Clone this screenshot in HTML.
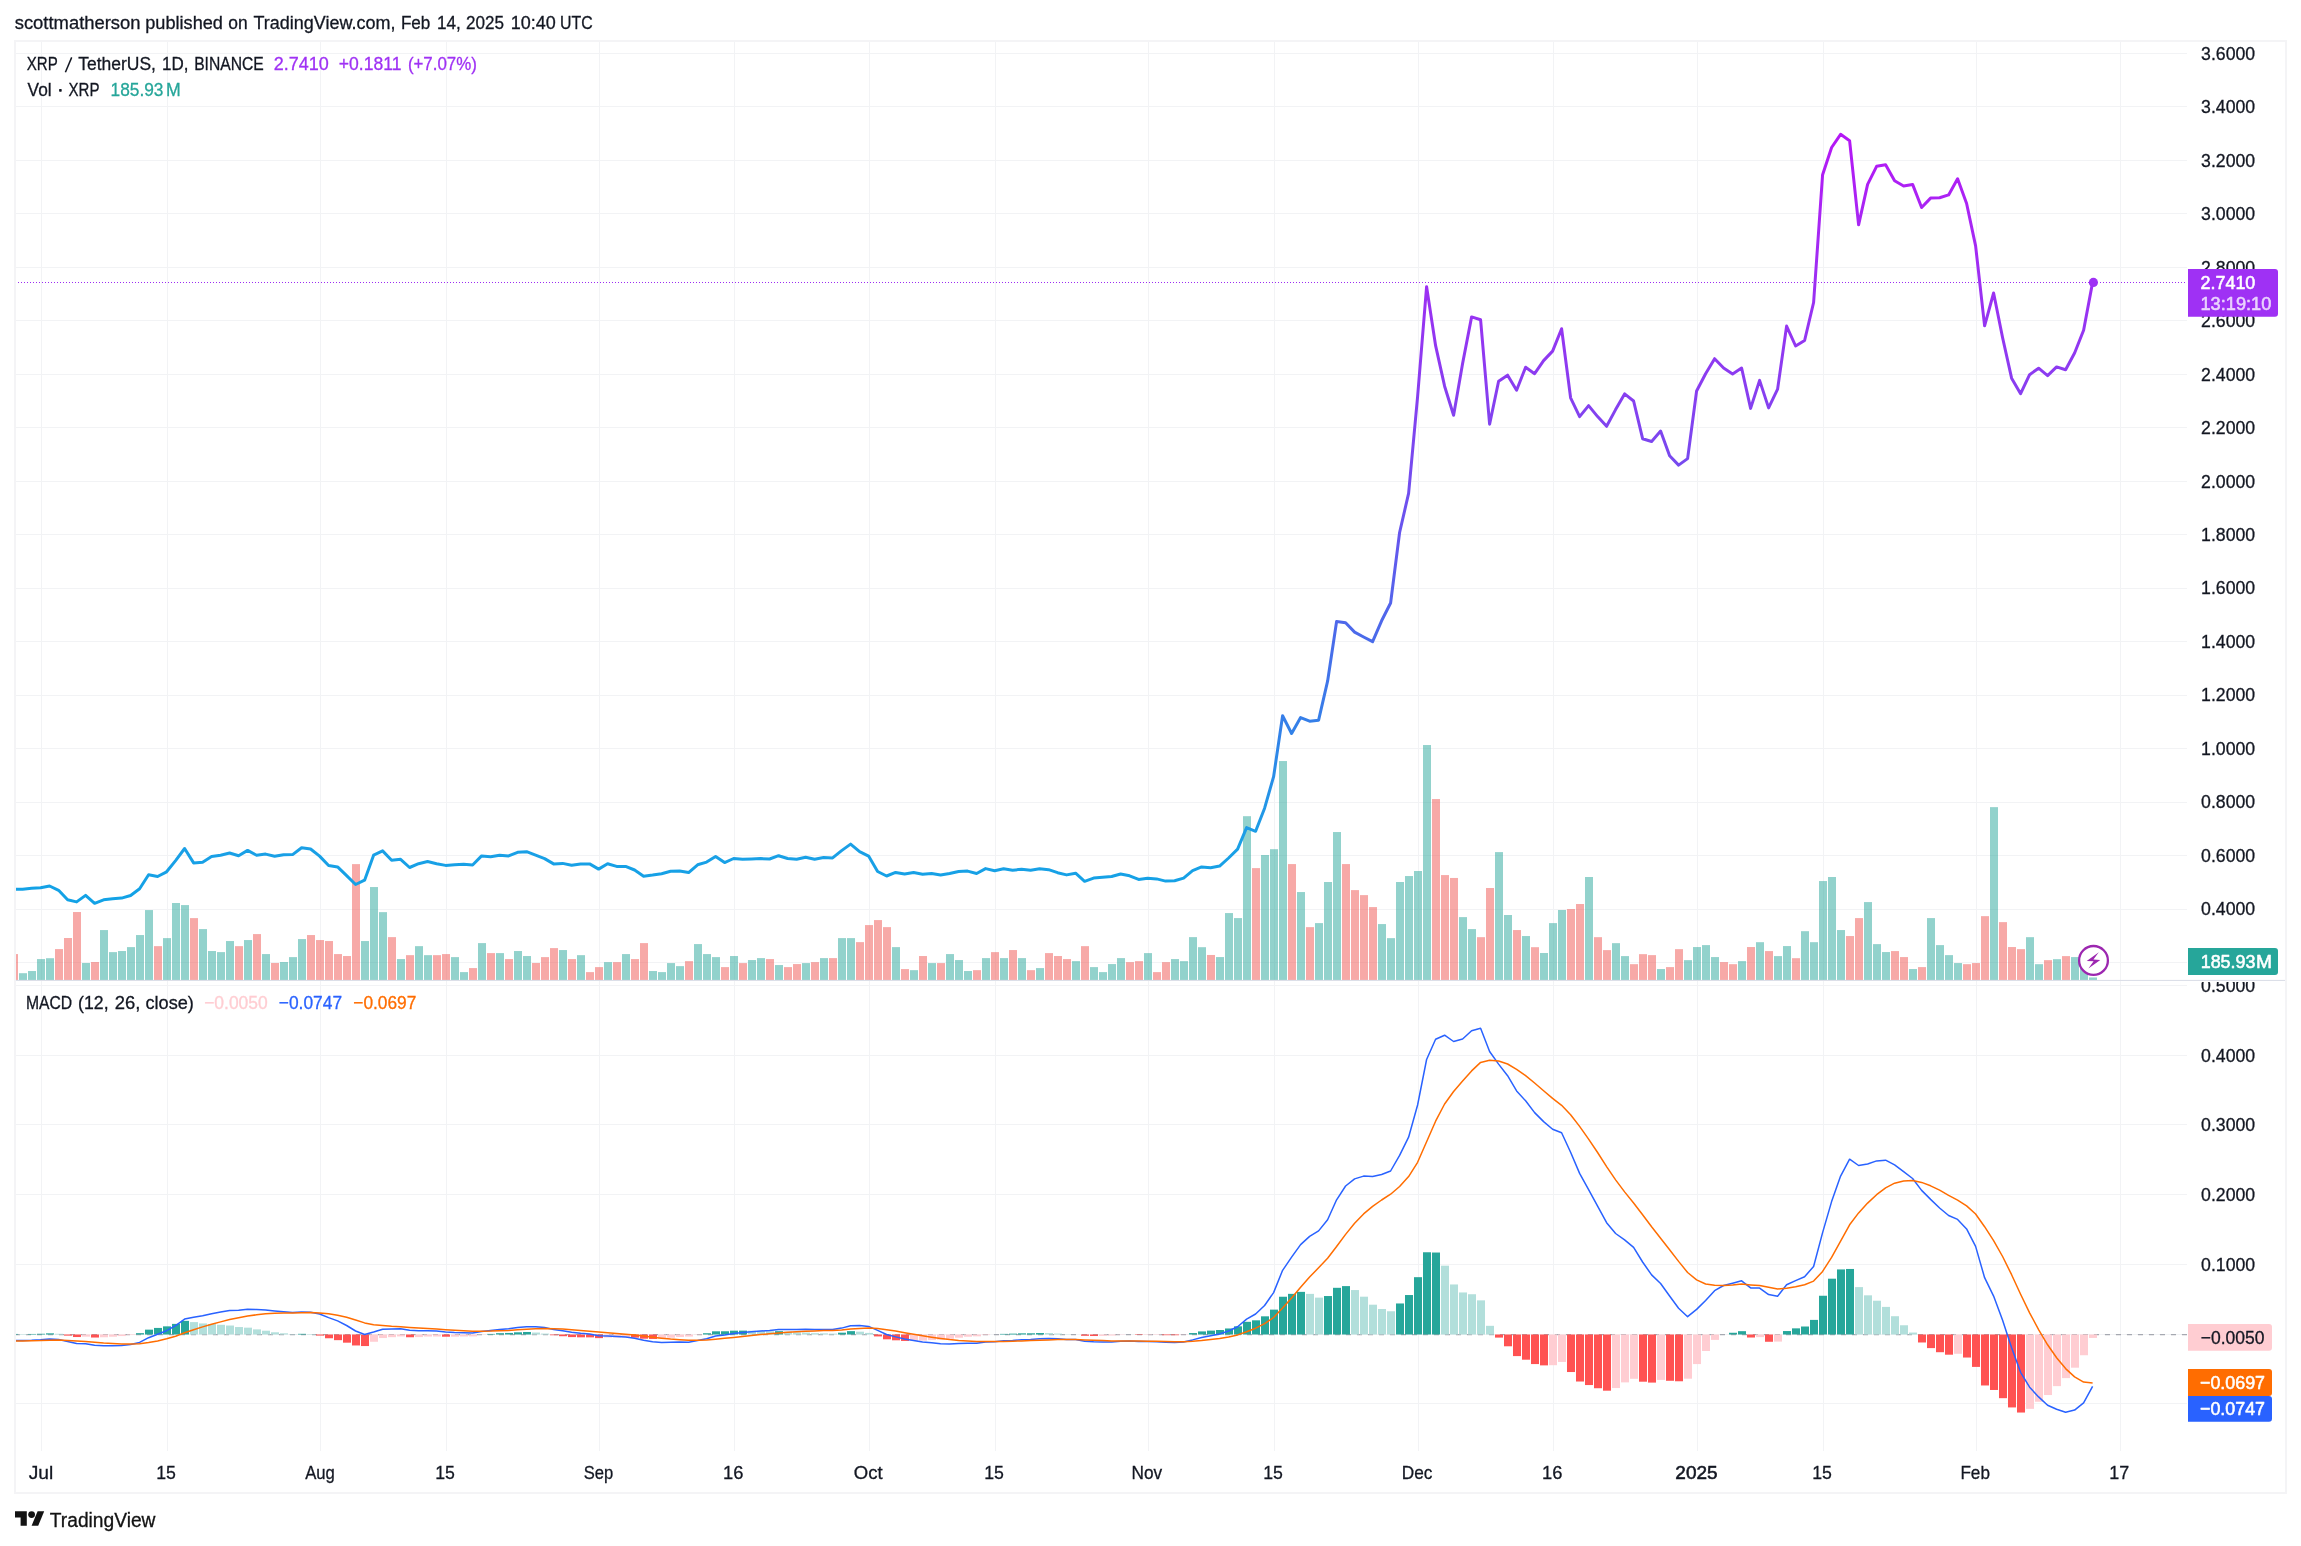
<!DOCTYPE html>
<html><head><meta charset="utf-8"><title>XRP / TetherUS chart</title>
<style>html,body{margin:0;padding:0;background:#fff;}body{width:2301px;height:1546px;overflow:hidden;font-family:"Liberation Sans",sans-serif;}</style>
</head><body>
<svg width="2301" height="1546" viewBox="0 0 2301 1546" style="display:block;will-change:transform;opacity:0.9999">
<defs>
<linearGradient id="pg" gradientUnits="userSpaceOnUse" x1="0" y1="130" x2="0" y2="900"><stop offset="0" stop-color="#b517f5"/><stop offset="0.13" stop-color="#a727f4"/><stop offset="0.33" stop-color="#8a3df0"/><stop offset="0.50" stop-color="#6b52ee"/><stop offset="0.66" stop-color="#4a6bea"/><stop offset="0.80" stop-color="#2f85e8"/><stop offset="0.92" stop-color="#1c9fe6"/><stop offset="1" stop-color="#12a2e6"/></linearGradient>
<clipPath id="cp"><rect x="15" y="42" width="2172" height="1409"/></clipPath>
<clipPath id="cpa"><rect x="2187" y="982" width="100" height="470"/></clipPath>
</defs>
<rect width="2301" height="1546" fill="#fff"/>
<g><rect x="41" y="42" width="1" height="1409" fill="#f2f3f5"/><rect x="167" y="42" width="1" height="1409" fill="#f2f3f5"/><rect x="320" y="42" width="1" height="1409" fill="#f2f3f5"/><rect x="446" y="42" width="1" height="1409" fill="#f2f3f5"/><rect x="599" y="42" width="1" height="1409" fill="#f2f3f5"/><rect x="734" y="42" width="1" height="1409" fill="#f2f3f5"/><rect x="869" y="42" width="1" height="1409" fill="#f2f3f5"/><rect x="995" y="42" width="1" height="1409" fill="#f2f3f5"/><rect x="1148" y="42" width="1" height="1409" fill="#f2f3f5"/><rect x="1274" y="42" width="1" height="1409" fill="#f2f3f5"/><rect x="1418" y="42" width="1" height="1409" fill="#f2f3f5"/><rect x="1553" y="42" width="1" height="1409" fill="#f2f3f5"/><rect x="1697" y="42" width="1" height="1409" fill="#f2f3f5"/><rect x="1823" y="42" width="1" height="1409" fill="#f2f3f5"/><rect x="1976" y="42" width="1" height="1409" fill="#f2f3f5"/><rect x="2120" y="42" width="1" height="1409" fill="#f2f3f5"/><rect x="16" y="53" width="2171" height="1" fill="#f2f3f5"/><rect x="16" y="106" width="2171" height="1" fill="#f2f3f5"/><rect x="16" y="160" width="2171" height="1" fill="#f2f3f5"/><rect x="16" y="213" width="2171" height="1" fill="#f2f3f5"/><rect x="16" y="267" width="2171" height="1" fill="#f2f3f5"/><rect x="16" y="320" width="2171" height="1" fill="#f2f3f5"/><rect x="16" y="374" width="2171" height="1" fill="#f2f3f5"/><rect x="16" y="427" width="2171" height="1" fill="#f2f3f5"/><rect x="16" y="481" width="2171" height="1" fill="#f2f3f5"/><rect x="16" y="534" width="2171" height="1" fill="#f2f3f5"/><rect x="16" y="588" width="2171" height="1" fill="#f2f3f5"/><rect x="16" y="641" width="2171" height="1" fill="#f2f3f5"/><rect x="16" y="695" width="2171" height="1" fill="#f2f3f5"/><rect x="16" y="748" width="2171" height="1" fill="#f2f3f5"/><rect x="16" y="802" width="2171" height="1" fill="#f2f3f5"/><rect x="16" y="855" width="2171" height="1" fill="#f2f3f5"/><rect x="16" y="909" width="2171" height="1" fill="#f2f3f5"/><rect x="16" y="962" width="2171" height="1" fill="#f2f3f5"/><rect x="16" y="1403" width="2171" height="1" fill="#f2f3f5"/><rect x="16" y="1334" width="2171" height="1" fill="#f2f3f5"/><rect x="16" y="1264" width="2171" height="1" fill="#f2f3f5"/><rect x="16" y="1194" width="2171" height="1" fill="#f2f3f5"/><rect x="16" y="1124" width="2171" height="1" fill="#f2f3f5"/><rect x="16" y="1055" width="2171" height="1" fill="#f2f3f5"/><rect x="16" y="985" width="2171" height="1" fill="#f2f3f5"/></g>
<g clip-path="url(#cp)">
<rect x="10.00" y="954.08" width="8" height="25.92" fill="rgba(239,83,80,0.5)"/><rect x="19.00" y="973.20" width="8" height="6.80" fill="rgba(38,166,154,0.5)"/><rect x="28.00" y="971.03" width="8" height="8.97" fill="rgba(38,166,154,0.5)"/><rect x="37.00" y="959.07" width="8" height="20.93" fill="rgba(38,166,154,0.5)"/><rect x="46.00" y="958.21" width="8" height="21.79" fill="rgba(38,166,154,0.5)"/><rect x="55.00" y="949.08" width="8" height="30.92" fill="rgba(239,83,80,0.5)"/><rect x="64.00" y="938.00" width="8" height="42.00" fill="rgba(239,83,80,0.5)"/><rect x="73.00" y="912.03" width="8" height="67.97" fill="rgba(239,83,80,0.5)"/><rect x="82.00" y="962.99" width="8" height="17.01" fill="rgba(38,166,154,0.5)"/><rect x="91.00" y="962.01" width="8" height="17.99" fill="rgba(239,83,80,0.5)"/><rect x="100.00" y="930.07" width="8" height="49.93" fill="rgba(38,166,154,0.5)"/><rect x="109.00" y="952.12" width="8" height="27.88" fill="rgba(38,166,154,0.5)"/><rect x="118.00" y="951.03" width="8" height="28.97" fill="rgba(38,166,154,0.5)"/><rect x="127.00" y="947.12" width="8" height="32.88" fill="rgba(38,166,154,0.5)"/><rect x="136.00" y="935.06" width="8" height="44.94" fill="rgba(38,166,154,0.5)"/><rect x="145.00" y="910.07" width="8" height="69.93" fill="rgba(38,166,154,0.5)"/><rect x="154.00" y="946.15" width="8" height="33.85" fill="rgba(239,83,80,0.5)"/><rect x="163.00" y="938.11" width="8" height="41.89" fill="rgba(38,166,154,0.5)"/><rect x="172.00" y="903.01" width="8" height="76.99" fill="rgba(38,166,154,0.5)"/><rect x="181.00" y="905.08" width="8" height="74.92" fill="rgba(38,166,154,0.5)"/><rect x="190.00" y="918.11" width="8" height="61.89" fill="rgba(239,83,80,0.5)"/><rect x="199.00" y="929.09" width="8" height="50.91" fill="rgba(38,166,154,0.5)"/><rect x="208.00" y="951.03" width="8" height="28.97" fill="rgba(38,166,154,0.5)"/><rect x="217.00" y="952.12" width="8" height="27.88" fill="rgba(38,166,154,0.5)"/><rect x="226.00" y="941.04" width="8" height="38.96" fill="rgba(38,166,154,0.5)"/><rect x="235.00" y="946.15" width="8" height="33.85" fill="rgba(239,83,80,0.5)"/><rect x="244.00" y="940.06" width="8" height="39.94" fill="rgba(38,166,154,0.5)"/><rect x="253.00" y="934.09" width="8" height="45.91" fill="rgba(239,83,80,0.5)"/><rect x="262.00" y="954.08" width="8" height="25.92" fill="rgba(38,166,154,0.5)"/><rect x="271.00" y="962.99" width="8" height="17.01" fill="rgba(239,83,80,0.5)"/><rect x="280.00" y="962.01" width="8" height="17.99" fill="rgba(38,166,154,0.5)"/><rect x="289.00" y="957.12" width="8" height="22.88" fill="rgba(38,166,154,0.5)"/><rect x="298.00" y="939.08" width="8" height="40.92" fill="rgba(38,166,154,0.5)"/><rect x="307.00" y="935.06" width="8" height="44.94" fill="rgba(239,83,80,0.5)"/><rect x="316.00" y="940.06" width="8" height="39.94" fill="rgba(239,83,80,0.5)"/><rect x="325.00" y="941.04" width="8" height="38.96" fill="rgba(239,83,80,0.5)"/><rect x="334.00" y="954.08" width="8" height="25.92" fill="rgba(239,83,80,0.5)"/><rect x="343.00" y="956.03" width="8" height="23.97" fill="rgba(239,83,80,0.5)"/><rect x="352.00" y="864.12" width="8" height="115.88" fill="rgba(239,83,80,0.5)"/><rect x="361.00" y="941.04" width="8" height="38.96" fill="rgba(38,166,154,0.5)"/><rect x="370.00" y="887.04" width="8" height="92.96" fill="rgba(38,166,154,0.5)"/><rect x="379.00" y="912.14" width="8" height="67.86" fill="rgba(38,166,154,0.5)"/><rect x="388.00" y="937.13" width="8" height="42.87" fill="rgba(239,83,80,0.5)"/><rect x="397.00" y="959.07" width="8" height="20.93" fill="rgba(38,166,154,0.5)"/><rect x="406.00" y="955.16" width="8" height="24.84" fill="rgba(239,83,80,0.5)"/><rect x="415.00" y="946.15" width="8" height="33.85" fill="rgba(38,166,154,0.5)"/><rect x="424.00" y="955.16" width="8" height="24.84" fill="rgba(38,166,154,0.5)"/><rect x="433.00" y="955.16" width="8" height="24.84" fill="rgba(239,83,80,0.5)"/><rect x="442.00" y="954.08" width="8" height="25.92" fill="rgba(239,83,80,0.5)"/><rect x="451.00" y="957.12" width="8" height="22.88" fill="rgba(38,166,154,0.5)"/><rect x="460.00" y="972.11" width="8" height="7.89" fill="rgba(38,166,154,0.5)"/><rect x="469.00" y="968.09" width="8" height="11.91" fill="rgba(239,83,80,0.5)"/><rect x="478.00" y="943.10" width="8" height="36.90" fill="rgba(38,166,154,0.5)"/><rect x="487.00" y="953.10" width="8" height="26.90" fill="rgba(239,83,80,0.5)"/><rect x="496.00" y="953.10" width="8" height="26.90" fill="rgba(38,166,154,0.5)"/><rect x="505.00" y="959.07" width="8" height="20.93" fill="rgba(239,83,80,0.5)"/><rect x="514.00" y="951.03" width="8" height="28.97" fill="rgba(38,166,154,0.5)"/><rect x="523.00" y="956.03" width="8" height="23.97" fill="rgba(38,166,154,0.5)"/><rect x="532.00" y="962.99" width="8" height="17.01" fill="rgba(239,83,80,0.5)"/><rect x="541.00" y="957.12" width="8" height="22.88" fill="rgba(239,83,80,0.5)"/><rect x="550.00" y="948.10" width="8" height="31.90" fill="rgba(239,83,80,0.5)"/><rect x="559.00" y="950.06" width="8" height="29.94" fill="rgba(38,166,154,0.5)"/><rect x="568.00" y="959.07" width="8" height="20.93" fill="rgba(239,83,80,0.5)"/><rect x="577.00" y="955.16" width="8" height="24.84" fill="rgba(38,166,154,0.5)"/><rect x="586.00" y="972.11" width="8" height="7.89" fill="rgba(239,83,80,0.5)"/><rect x="595.00" y="967.11" width="8" height="12.89" fill="rgba(239,83,80,0.5)"/><rect x="604.00" y="962.12" width="8" height="17.88" fill="rgba(38,166,154,0.5)"/><rect x="613.00" y="962.12" width="8" height="17.88" fill="rgba(239,83,80,0.5)"/><rect x="622.00" y="954.08" width="8" height="25.92" fill="rgba(38,166,154,0.5)"/><rect x="631.00" y="959.07" width="8" height="20.93" fill="rgba(239,83,80,0.5)"/><rect x="640.00" y="943.10" width="8" height="36.90" fill="rgba(239,83,80,0.5)"/><rect x="649.00" y="971.03" width="8" height="8.97" fill="rgba(38,166,154,0.5)"/><rect x="658.00" y="972.11" width="8" height="7.89" fill="rgba(38,166,154,0.5)"/><rect x="667.00" y="963.09" width="8" height="16.91" fill="rgba(38,166,154,0.5)"/><rect x="676.00" y="966.14" width="8" height="13.86" fill="rgba(38,166,154,0.5)"/><rect x="685.00" y="961.14" width="8" height="18.86" fill="rgba(239,83,80,0.5)"/><rect x="694.00" y="944.08" width="8" height="35.92" fill="rgba(38,166,154,0.5)"/><rect x="703.00" y="954.08" width="8" height="25.92" fill="rgba(38,166,154,0.5)"/><rect x="712.00" y="957.12" width="8" height="22.88" fill="rgba(38,166,154,0.5)"/><rect x="721.00" y="967.11" width="8" height="12.89" fill="rgba(239,83,80,0.5)"/><rect x="730.00" y="956.03" width="8" height="23.97" fill="rgba(38,166,154,0.5)"/><rect x="739.00" y="963.09" width="8" height="16.91" fill="rgba(239,83,80,0.5)"/><rect x="748.00" y="960.05" width="8" height="19.95" fill="rgba(38,166,154,0.5)"/><rect x="757.00" y="958.10" width="8" height="21.90" fill="rgba(38,166,154,0.5)"/><rect x="766.00" y="959.07" width="8" height="20.93" fill="rgba(239,83,80,0.5)"/><rect x="775.00" y="965.05" width="8" height="14.95" fill="rgba(38,166,154,0.5)"/><rect x="784.00" y="967.11" width="8" height="12.89" fill="rgba(239,83,80,0.5)"/><rect x="793.00" y="964.07" width="8" height="15.93" fill="rgba(239,83,80,0.5)"/><rect x="802.00" y="963.09" width="8" height="16.91" fill="rgba(38,166,154,0.5)"/><rect x="811.00" y="962.12" width="8" height="17.88" fill="rgba(239,83,80,0.5)"/><rect x="820.00" y="958.10" width="8" height="21.90" fill="rgba(38,166,154,0.5)"/><rect x="829.00" y="958.10" width="8" height="21.90" fill="rgba(239,83,80,0.5)"/><rect x="838.00" y="938.11" width="8" height="41.89" fill="rgba(38,166,154,0.5)"/><rect x="847.00" y="938.11" width="8" height="41.89" fill="rgba(38,166,154,0.5)"/><rect x="856.00" y="942.13" width="8" height="37.87" fill="rgba(239,83,80,0.5)"/><rect x="865.00" y="925.07" width="8" height="54.93" fill="rgba(239,83,80,0.5)"/><rect x="874.00" y="920.07" width="8" height="59.93" fill="rgba(239,83,80,0.5)"/><rect x="883.00" y="927.13" width="8" height="52.87" fill="rgba(239,83,80,0.5)"/><rect x="892.00" y="947.12" width="8" height="32.88" fill="rgba(38,166,154,0.5)"/><rect x="901.00" y="969.07" width="8" height="10.93" fill="rgba(239,83,80,0.5)"/><rect x="910.00" y="970.16" width="8" height="9.84" fill="rgba(38,166,154,0.5)"/><rect x="919.00" y="956.03" width="8" height="23.97" fill="rgba(239,83,80,0.5)"/><rect x="928.00" y="963.09" width="8" height="16.91" fill="rgba(38,166,154,0.5)"/><rect x="937.00" y="963.09" width="8" height="16.91" fill="rgba(239,83,80,0.5)"/><rect x="946.00" y="954.08" width="8" height="25.92" fill="rgba(38,166,154,0.5)"/><rect x="955.00" y="960.05" width="8" height="19.95" fill="rgba(38,166,154,0.5)"/><rect x="964.00" y="971.03" width="8" height="8.97" fill="rgba(38,166,154,0.5)"/><rect x="973.00" y="970.16" width="8" height="9.84" fill="rgba(239,83,80,0.5)"/><rect x="982.00" y="958.10" width="8" height="21.90" fill="rgba(38,166,154,0.5)"/><rect x="991.00" y="952.12" width="8" height="27.88" fill="rgba(239,83,80,0.5)"/><rect x="1000.00" y="958.10" width="8" height="21.90" fill="rgba(38,166,154,0.5)"/><rect x="1009.00" y="950.06" width="8" height="29.94" fill="rgba(239,83,80,0.5)"/><rect x="1018.00" y="958.10" width="8" height="21.90" fill="rgba(38,166,154,0.5)"/><rect x="1027.00" y="970.16" width="8" height="9.84" fill="rgba(239,83,80,0.5)"/><rect x="1036.00" y="968.09" width="8" height="11.91" fill="rgba(38,166,154,0.5)"/><rect x="1045.00" y="953.10" width="8" height="26.90" fill="rgba(239,83,80,0.5)"/><rect x="1054.00" y="956.03" width="8" height="23.97" fill="rgba(239,83,80,0.5)"/><rect x="1063.00" y="959.07" width="8" height="20.93" fill="rgba(239,83,80,0.5)"/><rect x="1072.00" y="961.14" width="8" height="18.86" fill="rgba(38,166,154,0.5)"/><rect x="1081.00" y="946.15" width="8" height="33.85" fill="rgba(239,83,80,0.5)"/><rect x="1090.00" y="967.11" width="8" height="12.89" fill="rgba(38,166,154,0.5)"/><rect x="1099.00" y="972.11" width="8" height="7.89" fill="rgba(38,166,154,0.5)"/><rect x="1108.00" y="964.07" width="8" height="15.93" fill="rgba(38,166,154,0.5)"/><rect x="1117.00" y="958.10" width="8" height="21.90" fill="rgba(38,166,154,0.5)"/><rect x="1126.00" y="962.12" width="8" height="17.88" fill="rgba(239,83,80,0.5)"/><rect x="1135.00" y="961.14" width="8" height="18.86" fill="rgba(239,83,80,0.5)"/><rect x="1144.00" y="953.10" width="8" height="26.90" fill="rgba(38,166,154,0.5)"/><rect x="1153.00" y="972.11" width="8" height="7.89" fill="rgba(239,83,80,0.5)"/><rect x="1162.00" y="962.12" width="8" height="17.88" fill="rgba(239,83,80,0.5)"/><rect x="1171.00" y="959.07" width="8" height="20.93" fill="rgba(38,166,154,0.5)"/><rect x="1180.00" y="961.14" width="8" height="18.86" fill="rgba(38,166,154,0.5)"/><rect x="1189.00" y="937.13" width="8" height="42.87" fill="rgba(38,166,154,0.5)"/><rect x="1198.00" y="947.20" width="8" height="32.80" fill="rgba(38,166,154,0.5)"/><rect x="1207.00" y="954.97" width="8" height="25.03" fill="rgba(239,83,80,0.5)"/><rect x="1216.00" y="957.07" width="8" height="22.93" fill="rgba(38,166,154,0.5)"/><rect x="1225.00" y="913.07" width="8" height="66.93" fill="rgba(38,166,154,0.5)"/><rect x="1234.00" y="918.09" width="8" height="61.91" fill="rgba(38,166,154,0.5)"/><rect x="1243.00" y="816.19" width="8" height="163.81" fill="rgba(38,166,154,0.5)"/><rect x="1252.00" y="868.11" width="8" height="111.89" fill="rgba(239,83,80,0.5)"/><rect x="1261.00" y="855.01" width="8" height="124.99" fill="rgba(38,166,154,0.5)"/><rect x="1270.00" y="849.19" width="8" height="130.81" fill="rgba(38,166,154,0.5)"/><rect x="1279.00" y="761.04" width="8" height="218.96" fill="rgba(38,166,154,0.5)"/><rect x="1288.00" y="864.07" width="8" height="115.93" fill="rgba(239,83,80,0.5)"/><rect x="1297.00" y="892.05" width="8" height="87.95" fill="rgba(38,166,154,0.5)"/><rect x="1306.00" y="927.15" width="8" height="52.85" fill="rgba(239,83,80,0.5)"/><rect x="1315.00" y="923.10" width="8" height="56.90" fill="rgba(38,166,154,0.5)"/><rect x="1324.00" y="882.02" width="8" height="97.98" fill="rgba(38,166,154,0.5)"/><rect x="1333.00" y="832.04" width="8" height="147.96" fill="rgba(38,166,154,0.5)"/><rect x="1342.00" y="864.07" width="8" height="115.93" fill="rgba(239,83,80,0.5)"/><rect x="1351.00" y="890.11" width="8" height="89.89" fill="rgba(239,83,80,0.5)"/><rect x="1360.00" y="895.12" width="8" height="84.88" fill="rgba(239,83,80,0.5)"/><rect x="1369.00" y="907.09" width="8" height="72.91" fill="rgba(239,83,80,0.5)"/><rect x="1378.00" y="924.07" width="8" height="55.93" fill="rgba(38,166,154,0.5)"/><rect x="1387.00" y="938.14" width="8" height="41.86" fill="rgba(38,166,154,0.5)"/><rect x="1396.00" y="882.02" width="8" height="97.98" fill="rgba(38,166,154,0.5)"/><rect x="1405.00" y="876.04" width="8" height="103.96" fill="rgba(38,166,154,0.5)"/><rect x="1414.00" y="871.02" width="8" height="108.98" fill="rgba(38,166,154,0.5)"/><rect x="1423.00" y="745.03" width="8" height="234.97" fill="rgba(38,166,154,0.5)"/><rect x="1432.00" y="799.05" width="8" height="180.95" fill="rgba(239,83,80,0.5)"/><rect x="1441.00" y="875.07" width="8" height="104.93" fill="rgba(239,83,80,0.5)"/><rect x="1450.00" y="877.98" width="8" height="102.02" fill="rgba(239,83,80,0.5)"/><rect x="1459.00" y="917.12" width="8" height="62.88" fill="rgba(38,166,154,0.5)"/><rect x="1468.00" y="929.09" width="8" height="50.91" fill="rgba(38,166,154,0.5)"/><rect x="1477.00" y="937.17" width="8" height="42.83" fill="rgba(239,83,80,0.5)"/><rect x="1486.00" y="888.01" width="8" height="91.99" fill="rgba(239,83,80,0.5)"/><rect x="1495.00" y="852.10" width="8" height="127.90" fill="rgba(38,166,154,0.5)"/><rect x="1504.00" y="915.02" width="8" height="64.98" fill="rgba(38,166,154,0.5)"/><rect x="1513.00" y="930.06" width="8" height="49.94" fill="rgba(239,83,80,0.5)"/><rect x="1522.00" y="936.04" width="8" height="43.96" fill="rgba(38,166,154,0.5)"/><rect x="1531.00" y="947.20" width="8" height="32.80" fill="rgba(239,83,80,0.5)"/><rect x="1540.00" y="953.02" width="8" height="26.98" fill="rgba(38,166,154,0.5)"/><rect x="1549.00" y="923.10" width="8" height="56.90" fill="rgba(38,166,154,0.5)"/><rect x="1558.00" y="910.00" width="8" height="70.00" fill="rgba(38,166,154,0.5)"/><rect x="1567.00" y="909.03" width="8" height="70.97" fill="rgba(239,83,80,0.5)"/><rect x="1576.00" y="904.02" width="8" height="75.98" fill="rgba(239,83,80,0.5)"/><rect x="1585.00" y="877.01" width="8" height="102.99" fill="rgba(38,166,154,0.5)"/><rect x="1594.00" y="937.17" width="8" height="42.83" fill="rgba(239,83,80,0.5)"/><rect x="1603.00" y="950.11" width="8" height="29.89" fill="rgba(239,83,80,0.5)"/><rect x="1612.00" y="943.16" width="8" height="36.84" fill="rgba(38,166,154,0.5)"/><rect x="1621.00" y="956.10" width="8" height="23.90" fill="rgba(38,166,154,0.5)"/><rect x="1630.00" y="964.18" width="8" height="15.82" fill="rgba(239,83,80,0.5)"/><rect x="1639.00" y="954.16" width="8" height="25.84" fill="rgba(239,83,80,0.5)"/><rect x="1648.00" y="955.13" width="8" height="24.87" fill="rgba(239,83,80,0.5)"/><rect x="1657.00" y="969.04" width="8" height="10.96" fill="rgba(38,166,154,0.5)"/><rect x="1666.00" y="967.10" width="8" height="12.90" fill="rgba(239,83,80,0.5)"/><rect x="1675.00" y="949.14" width="8" height="30.86" fill="rgba(239,83,80,0.5)"/><rect x="1684.00" y="960.14" width="8" height="19.86" fill="rgba(38,166,154,0.5)"/><rect x="1693.00" y="947.04" width="8" height="32.96" fill="rgba(38,166,154,0.5)"/><rect x="1702.00" y="945.10" width="8" height="34.90" fill="rgba(38,166,154,0.5)"/><rect x="1711.00" y="957.07" width="8" height="22.93" fill="rgba(38,166,154,0.5)"/><rect x="1720.00" y="962.08" width="8" height="17.92" fill="rgba(239,83,80,0.5)"/><rect x="1729.00" y="964.18" width="8" height="15.82" fill="rgba(239,83,80,0.5)"/><rect x="1738.00" y="961.11" width="8" height="18.89" fill="rgba(38,166,154,0.5)"/><rect x="1747.00" y="947.04" width="8" height="32.96" fill="rgba(239,83,80,0.5)"/><rect x="1756.00" y="942.19" width="8" height="37.81" fill="rgba(38,166,154,0.5)"/><rect x="1765.00" y="951.08" width="8" height="28.92" fill="rgba(239,83,80,0.5)"/><rect x="1774.00" y="956.10" width="8" height="23.90" fill="rgba(38,166,154,0.5)"/><rect x="1783.00" y="946.07" width="8" height="33.93" fill="rgba(38,166,154,0.5)"/><rect x="1792.00" y="958.20" width="8" height="21.80" fill="rgba(239,83,80,0.5)"/><rect x="1801.00" y="931.19" width="8" height="48.81" fill="rgba(38,166,154,0.5)"/><rect x="1810.00" y="942.19" width="8" height="37.81" fill="rgba(38,166,154,0.5)"/><rect x="1819.00" y="881.05" width="8" height="98.95" fill="rgba(38,166,154,0.5)"/><rect x="1828.00" y="877.01" width="8" height="102.99" fill="rgba(38,166,154,0.5)"/><rect x="1837.00" y="930.06" width="8" height="49.94" fill="rgba(38,166,154,0.5)"/><rect x="1846.00" y="936.04" width="8" height="43.96" fill="rgba(239,83,80,0.5)"/><rect x="1855.00" y="918.09" width="8" height="61.91" fill="rgba(239,83,80,0.5)"/><rect x="1864.00" y="902.08" width="8" height="77.92" fill="rgba(38,166,154,0.5)"/><rect x="1873.00" y="944.13" width="8" height="35.87" fill="rgba(38,166,154,0.5)"/><rect x="1882.00" y="952.05" width="8" height="27.95" fill="rgba(38,166,154,0.5)"/><rect x="1891.00" y="951.08" width="8" height="28.92" fill="rgba(239,83,80,0.5)"/><rect x="1900.00" y="957.07" width="8" height="22.93" fill="rgba(239,83,80,0.5)"/><rect x="1909.00" y="969.04" width="8" height="10.96" fill="rgba(38,166,154,0.5)"/><rect x="1918.00" y="967.10" width="8" height="12.90" fill="rgba(239,83,80,0.5)"/><rect x="1927.00" y="918.09" width="8" height="61.91" fill="rgba(38,166,154,0.5)"/><rect x="1936.00" y="945.10" width="8" height="34.90" fill="rgba(38,166,154,0.5)"/><rect x="1945.00" y="955.13" width="8" height="24.87" fill="rgba(38,166,154,0.5)"/><rect x="1954.00" y="963.05" width="8" height="16.95" fill="rgba(38,166,154,0.5)"/><rect x="1963.00" y="964.18" width="8" height="15.82" fill="rgba(239,83,80,0.5)"/><rect x="1972.00" y="963.05" width="8" height="16.95" fill="rgba(239,83,80,0.5)"/><rect x="1981.00" y="916.15" width="8" height="63.85" fill="rgba(239,83,80,0.5)"/><rect x="1990.00" y="807.14" width="8" height="172.86" fill="rgba(38,166,154,0.5)"/><rect x="1999.00" y="922.13" width="8" height="57.87" fill="rgba(239,83,80,0.5)"/><rect x="2008.00" y="947.04" width="8" height="32.96" fill="rgba(239,83,80,0.5)"/><rect x="2017.00" y="949.14" width="8" height="30.86" fill="rgba(239,83,80,0.5)"/><rect x="2026.00" y="937.17" width="8" height="42.83" fill="rgba(38,166,154,0.5)"/><rect x="2035.00" y="964.18" width="8" height="15.82" fill="rgba(38,166,154,0.5)"/><rect x="2044.00" y="960.14" width="8" height="19.86" fill="rgba(239,83,80,0.5)"/><rect x="2053.00" y="959.17" width="8" height="20.83" fill="rgba(38,166,154,0.5)"/><rect x="2062.00" y="956.10" width="8" height="23.90" fill="rgba(239,83,80,0.5)"/><rect x="2071.00" y="957.07" width="8" height="22.93" fill="rgba(38,166,154,0.5)"/><rect x="2080.00" y="967.90" width="8" height="12.10" fill="rgba(38,166,154,0.5)"/><rect x="2089.00" y="977.45" width="8" height="2.55" fill="rgba(38,166,154,0.5)"/>
</g>
<g clip-path="url(#cp)"><polyline points="4.6,889.7 13.6,889.2 22.6,889.2 31.6,888.3 40.6,887.8 49.6,886.0 58.6,890.3 67.6,899.8 76.6,901.9 85.6,895.4 94.6,903.3 103.6,899.8 112.6,898.8 121.6,898.1 130.6,895.5 139.6,888.7 148.6,874.8 157.6,876.5 166.6,871.8 175.6,860.6 184.6,848.5 193.6,862.9 202.6,862.2 211.6,856.6 220.6,855.3 229.6,853.0 238.6,855.7 247.6,850.4 256.6,855.3 265.6,854.1 274.6,856.3 283.6,854.7 292.6,854.6 301.6,847.7 310.6,849.0 319.6,856.1 328.6,865.5 337.6,866.9 346.6,875.6 355.6,884.5 364.6,880.2 373.6,855.2 382.6,850.9 391.6,860.2 400.6,859.3 409.6,867.5 418.6,863.7 427.6,861.5 436.6,863.7 445.6,865.4 454.6,864.8 463.6,864.2 472.6,865.0 481.6,855.9 490.6,856.7 499.6,855.2 508.6,855.9 517.6,852.3 526.6,851.7 535.6,855.2 544.6,858.6 553.6,863.9 562.6,863.4 571.6,865.3 580.6,863.9 589.6,863.9 598.6,869.1 607.6,863.7 616.6,866.4 625.6,866.4 634.6,870.0 643.6,876.2 652.6,875.1 661.6,873.7 670.6,871.3 679.6,871.0 688.6,872.6 697.6,864.8 706.6,862.1 715.6,856.4 724.6,862.6 733.6,858.5 742.6,859.3 751.6,859.0 760.6,858.6 769.6,859.0 778.6,855.7 787.6,858.5 796.6,859.3 805.6,857.2 814.6,859.3 823.6,857.5 832.6,857.9 841.6,850.6 850.6,844.1 859.6,851.7 868.6,856.1 877.6,871.5 886.6,876.0 895.6,872.4 904.6,874.0 913.6,872.6 922.6,874.2 931.6,873.5 940.6,875.1 949.6,873.5 958.6,871.5 967.6,871.1 976.6,873.5 985.6,868.6 994.6,870.7 1003.6,868.8 1012.6,870.2 1021.6,869.3 1030.6,870.2 1039.6,868.8 1048.6,869.7 1057.6,872.7 1066.6,874.9 1075.6,873.2 1084.6,881.3 1093.6,878.1 1102.6,877.3 1111.6,876.5 1120.6,874.0 1129.6,875.8 1138.6,879.4 1147.6,878.3 1156.6,878.9 1165.6,881.1 1174.6,880.8 1183.6,878.1 1192.6,870.7 1201.6,866.9 1210.6,867.7 1219.6,866.1 1228.6,858.0 1237.6,849.1 1246.6,827.6 1255.6,831.3 1264.6,808.2 1273.6,776.7 1282.6,715.7 1291.6,733.5 1300.6,717.6 1309.6,721.2 1318.6,720.2 1327.6,681.2 1336.6,621.5 1345.6,622.8 1354.6,632.1 1363.6,637.0 1372.6,641.7 1381.6,620.8 1390.6,603.0 1399.6,532.5 1408.6,493.4 1417.6,396.7 1426.6,286.7 1435.6,345.7 1444.6,386.2 1453.6,415.3 1462.6,363.5 1471.6,316.9 1480.6,319.8 1489.6,424.2 1498.6,381.3 1507.6,375.2 1516.6,390.2 1525.6,367.2 1534.6,373.7 1543.6,360.6 1552.6,351.1 1561.6,328.7 1570.6,397.8 1579.6,416.6 1588.6,405.6 1597.6,416.6 1606.6,426.3 1615.6,409.6 1624.6,393.9 1633.6,401.0 1642.6,438.7 1651.6,441.5 1660.6,431.1 1669.6,455.7 1678.6,465.1 1687.6,458.6 1696.6,391.0 1705.6,373.7 1714.6,358.7 1723.6,368.0 1732.6,373.9 1741.6,368.0 1750.6,408.4 1759.6,380.4 1768.6,407.9 1777.6,389.1 1786.6,326.1 1795.6,346.0 1804.6,340.5 1813.6,302.5 1822.6,174.7 1831.6,147.5 1840.6,134.3 1849.6,140.7 1858.6,224.8 1867.6,184.4 1876.6,166.3 1885.6,164.7 1894.6,180.8 1903.6,186.0 1912.6,184.4 1921.6,207.5 1930.6,198.1 1939.6,197.8 1948.6,194.9 1957.6,178.7 1966.6,203.5 1975.6,245.9 1984.6,325.8 1993.6,293.0 2002.6,337.8 2011.6,378.2 2020.6,393.7 2029.6,374.7 2038.6,368.2 2047.6,375.6 2056.6,366.9 2065.6,369.8 2074.6,353.0 2083.6,330.2 2092.6,282.4" fill="none" stroke="url(#pg)" stroke-width="3" stroke-linejoin="round" stroke-linecap="round"/></g>
<line x1="18" y1="282.5" x2="2185.5" y2="282.5" stroke="#9c2cf3" stroke-width="1" stroke-dasharray="1 2"/>
<circle cx="2093.4" cy="282.4" r="4.6" fill="#9f31f4"/>
<rect x="16" y="979.9" width="2269.5" height="1.1" fill="#dcdfe8"/>
<g clip-path="url(#cp)">
<line x1="14.9" y1="1334.6" x2="2187" y2="1334.6" stroke="#a6a9b1" stroke-width="1.3" stroke-dasharray="5.1 5.9"/>
<rect x="10.00" y="1333.94" width="8" height="0.56" fill="#26a69a"/><rect x="19.00" y="1334.06" width="8" height="0.44" fill="#b2dfdb"/><rect x="28.00" y="1333.95" width="8" height="0.55" fill="#26a69a"/><rect x="37.00" y="1333.77" width="8" height="0.73" fill="#26a69a"/><rect x="46.00" y="1333.33" width="8" height="1.17" fill="#26a69a"/><rect x="55.00" y="1333.78" width="8" height="0.72" fill="#b2dfdb"/><rect x="64.00" y="1334.50" width="8" height="1.13" fill="#ff5252"/><rect x="73.00" y="1334.50" width="8" height="2.53" fill="#ff5252"/><rect x="82.00" y="1334.50" width="8" height="2.14" fill="#ffcdd2"/><rect x="91.00" y="1334.50" width="8" height="3.03" fill="#ff5252"/><rect x="100.00" y="1334.50" width="8" height="2.77" fill="#ffcdd2"/><rect x="109.00" y="1334.50" width="8" height="2.22" fill="#ffcdd2"/><rect x="118.00" y="1334.50" width="8" height="1.56" fill="#ffcdd2"/><rect x="127.00" y="1334.50" width="8" height="0.55" fill="#ffcdd2"/><rect x="136.00" y="1333.16" width="8" height="1.34" fill="#26a69a"/><rect x="145.00" y="1329.65" width="8" height="4.85" fill="#26a69a"/><rect x="154.00" y="1327.92" width="8" height="6.58" fill="#26a69a"/><rect x="163.00" y="1326.35" width="8" height="8.15" fill="#26a69a"/><rect x="172.00" y="1323.89" width="8" height="10.61" fill="#26a69a"/><rect x="181.00" y="1320.86" width="8" height="13.64" fill="#26a69a"/><rect x="190.00" y="1322.10" width="8" height="12.40" fill="#b2dfdb"/><rect x="199.00" y="1323.44" width="8" height="11.06" fill="#b2dfdb"/><rect x="208.00" y="1324.01" width="8" height="10.49" fill="#b2dfdb"/><rect x="217.00" y="1324.79" width="8" height="9.71" fill="#b2dfdb"/><rect x="226.00" y="1325.53" width="8" height="8.97" fill="#b2dfdb"/><rect x="235.00" y="1327.05" width="8" height="7.45" fill="#b2dfdb"/><rect x="244.00" y="1327.66" width="8" height="6.84" fill="#b2dfdb"/><rect x="253.00" y="1329.38" width="8" height="5.12" fill="#b2dfdb"/><rect x="262.00" y="1330.71" width="8" height="3.79" fill="#b2dfdb"/><rect x="271.00" y="1332.29" width="8" height="2.21" fill="#b2dfdb"/><rect x="280.00" y="1333.32" width="8" height="1.18" fill="#b2dfdb"/><rect x="289.00" y="1334.21" width="8" height="0.29" fill="#b2dfdb"/><rect x="298.00" y="1333.83" width="8" height="0.67" fill="#26a69a"/><rect x="307.00" y="1334.05" width="8" height="0.45" fill="#b2dfdb"/><rect x="316.00" y="1334.50" width="8" height="1.09" fill="#ff5252"/><rect x="325.00" y="1334.50" width="8" height="3.76" fill="#ff5252"/><rect x="334.00" y="1334.50" width="8" height="5.66" fill="#ff5252"/><rect x="343.00" y="1334.50" width="8" height="8.18" fill="#ff5252"/><rect x="352.00" y="1334.50" width="8" height="10.97" fill="#ff5252"/><rect x="361.00" y="1334.50" width="8" height="11.55" fill="#ff5252"/><rect x="370.00" y="1334.50" width="8" height="7.26" fill="#ffcdd2"/><rect x="379.00" y="1334.50" width="8" height="3.55" fill="#ffcdd2"/><rect x="388.00" y="1334.50" width="8" height="2.68" fill="#ffcdd2"/><rect x="397.00" y="1334.50" width="8" height="1.92" fill="#ffcdd2"/><rect x="406.00" y="1334.50" width="8" height="2.77" fill="#ff5252"/><rect x="415.00" y="1334.50" width="8" height="2.59" fill="#ffcdd2"/><rect x="424.00" y="1334.50" width="8" height="2.04" fill="#ffcdd2"/><rect x="433.00" y="1334.50" width="8" height="2.00" fill="#ffcdd2"/><rect x="442.00" y="1334.50" width="8" height="2.21" fill="#ff5252"/><rect x="451.00" y="1334.50" width="8" height="2.16" fill="#ffcdd2"/><rect x="460.00" y="1334.50" width="8" height="1.97" fill="#ffcdd2"/><rect x="469.00" y="1334.50" width="8" height="1.90" fill="#ffcdd2"/><rect x="478.00" y="1334.50" width="8" height="0.27" fill="#ffcdd2"/><rect x="487.00" y="1333.91" width="8" height="0.59" fill="#26a69a"/><rect x="496.00" y="1333.18" width="8" height="1.32" fill="#26a69a"/><rect x="505.00" y="1332.94" width="8" height="1.56" fill="#26a69a"/><rect x="514.00" y="1332.30" width="8" height="2.20" fill="#26a69a"/><rect x="523.00" y="1331.98" width="8" height="2.52" fill="#26a69a"/><rect x="532.00" y="1332.53" width="8" height="1.97" fill="#b2dfdb"/><rect x="541.00" y="1333.59" width="8" height="0.91" fill="#b2dfdb"/><rect x="550.00" y="1334.50" width="8" height="0.75" fill="#ff5252"/><rect x="559.00" y="1334.50" width="8" height="1.71" fill="#ff5252"/><rect x="568.00" y="1334.50" width="8" height="2.59" fill="#ff5252"/><rect x="577.00" y="1334.50" width="8" height="2.82" fill="#ff5252"/><rect x="586.00" y="1334.50" width="8" height="2.86" fill="#ff5252"/><rect x="595.00" y="1334.50" width="8" height="3.62" fill="#ff5252"/><rect x="604.00" y="1334.50" width="8" height="3.03" fill="#ffcdd2"/><rect x="613.00" y="1334.50" width="8" height="2.97" fill="#ffcdd2"/><rect x="622.00" y="1334.50" width="8" height="2.79" fill="#ffcdd2"/><rect x="631.00" y="1334.50" width="8" height="3.12" fill="#ff5252"/><rect x="640.00" y="1334.50" width="8" height="4.19" fill="#ff5252"/><rect x="649.00" y="1334.50" width="8" height="4.45" fill="#ff5252"/><rect x="658.00" y="1334.50" width="8" height="4.12" fill="#ffcdd2"/><rect x="667.00" y="1334.50" width="8" height="3.26" fill="#ffcdd2"/><rect x="676.00" y="1334.50" width="8" height="2.46" fill="#ffcdd2"/><rect x="685.00" y="1334.50" width="8" height="2.05" fill="#ffcdd2"/><rect x="694.00" y="1334.50" width="8" height="0.33" fill="#ffcdd2"/><rect x="703.00" y="1333.24" width="8" height="1.26" fill="#26a69a"/><rect x="712.00" y="1331.31" width="8" height="3.19" fill="#26a69a"/><rect x="721.00" y="1331.26" width="8" height="3.24" fill="#26a69a"/><rect x="730.00" y="1330.68" width="8" height="3.82" fill="#26a69a"/><rect x="739.00" y="1330.63" width="8" height="3.87" fill="#26a69a"/><rect x="748.00" y="1330.73" width="8" height="3.77" fill="#b2dfdb"/><rect x="757.00" y="1330.91" width="8" height="3.59" fill="#b2dfdb"/><rect x="766.00" y="1331.28" width="8" height="3.22" fill="#b2dfdb"/><rect x="775.00" y="1331.15" width="8" height="3.35" fill="#26a69a"/><rect x="784.00" y="1331.71" width="8" height="2.79" fill="#b2dfdb"/><rect x="793.00" y="1332.37" width="8" height="2.13" fill="#b2dfdb"/><rect x="802.00" y="1332.56" width="8" height="1.94" fill="#b2dfdb"/><rect x="811.00" y="1333.17" width="8" height="1.33" fill="#b2dfdb"/><rect x="820.00" y="1333.35" width="8" height="1.15" fill="#b2dfdb"/><rect x="829.00" y="1333.63" width="8" height="0.87" fill="#b2dfdb"/><rect x="838.00" y="1332.68" width="8" height="1.82" fill="#26a69a"/><rect x="847.00" y="1331.13" width="8" height="3.37" fill="#26a69a"/><rect x="856.00" y="1331.66" width="8" height="2.84" fill="#b2dfdb"/><rect x="865.00" y="1332.91" width="8" height="1.59" fill="#b2dfdb"/><rect x="874.00" y="1334.50" width="8" height="1.91" fill="#ff5252"/><rect x="883.00" y="1334.50" width="8" height="4.80" fill="#ff5252"/><rect x="892.00" y="1334.50" width="8" height="5.80" fill="#ff5252"/><rect x="901.00" y="1334.50" width="8" height="6.43" fill="#ff5252"/><rect x="910.00" y="1334.50" width="8" height="6.27" fill="#ffcdd2"/><rect x="919.00" y="1334.50" width="8" height="6.11" fill="#ffcdd2"/><rect x="928.00" y="1334.50" width="8" height="5.56" fill="#ffcdd2"/><rect x="937.00" y="1334.50" width="8" height="5.16" fill="#ffcdd2"/><rect x="946.00" y="1334.50" width="8" height="4.34" fill="#ffcdd2"/><rect x="955.00" y="1334.50" width="8" height="3.22" fill="#ffcdd2"/><rect x="964.00" y="1334.50" width="8" height="2.23" fill="#ffcdd2"/><rect x="973.00" y="1334.50" width="8" height="1.83" fill="#ffcdd2"/><rect x="982.00" y="1334.50" width="8" height="0.60" fill="#ffcdd2"/><rect x="1000.00" y="1333.89" width="8" height="0.61" fill="#26a69a"/><rect x="1009.00" y="1333.65" width="8" height="0.85" fill="#26a69a"/><rect x="1018.00" y="1333.34" width="8" height="1.16" fill="#26a69a"/><rect x="1027.00" y="1333.29" width="8" height="1.21" fill="#26a69a"/><rect x="1036.00" y="1333.03" width="8" height="1.47" fill="#26a69a"/><rect x="1045.00" y="1333.04" width="8" height="1.46" fill="#b2dfdb"/><rect x="1054.00" y="1333.58" width="8" height="0.92" fill="#b2dfdb"/><rect x="1063.00" y="1334.28" width="8" height="0.22" fill="#b2dfdb"/><rect x="1081.00" y="1334.50" width="8" height="1.29" fill="#ff5252"/><rect x="1090.00" y="1334.50" width="8" height="1.51" fill="#ff5252"/><rect x="1099.00" y="1334.50" width="8" height="1.38" fill="#ffcdd2"/><rect x="1108.00" y="1334.50" width="8" height="1.04" fill="#ffcdd2"/><rect x="1117.00" y="1334.50" width="8" height="0.30" fill="#ffcdd2"/><rect x="1135.00" y="1334.50" width="8" height="0.45" fill="#ff5252"/><rect x="1144.00" y="1334.50" width="8" height="0.43" fill="#ffcdd2"/><rect x="1153.00" y="1334.50" width="8" height="0.43" fill="#ffcdd2"/><rect x="1162.00" y="1334.50" width="8" height="0.70" fill="#ff5252"/><rect x="1171.00" y="1334.50" width="8" height="0.73" fill="#ff5252"/><rect x="1180.00" y="1334.50" width="8" height="0.20" fill="#ffcdd2"/><rect x="1189.00" y="1333.06" width="8" height="1.44" fill="#26a69a"/><rect x="1198.00" y="1331.41" width="8" height="3.09" fill="#26a69a"/><rect x="1207.00" y="1330.62" width="8" height="3.88" fill="#26a69a"/><rect x="1216.00" y="1330.01" width="8" height="4.49" fill="#26a69a"/><rect x="1225.00" y="1328.48" width="8" height="6.02" fill="#26a69a"/><rect x="1234.00" y="1326.33" width="8" height="8.17" fill="#26a69a"/><rect x="1243.00" y="1321.83" width="8" height="12.67" fill="#26a69a"/><rect x="1252.00" y="1320.32" width="8" height="14.18" fill="#26a69a"/><rect x="1261.00" y="1316.33" width="8" height="18.17" fill="#26a69a"/><rect x="1270.00" y="1309.63" width="8" height="24.87" fill="#26a69a"/><rect x="1279.00" y="1296.74" width="8" height="37.76" fill="#26a69a"/><rect x="1288.00" y="1293.85" width="8" height="40.65" fill="#26a69a"/><rect x="1297.00" y="1291.86" width="8" height="42.64" fill="#26a69a"/><rect x="1306.00" y="1293.87" width="8" height="40.63" fill="#b2dfdb"/><rect x="1315.00" y="1297.63" width="8" height="36.87" fill="#b2dfdb"/><rect x="1324.00" y="1296.04" width="8" height="38.46" fill="#26a69a"/><rect x="1333.00" y="1287.81" width="8" height="46.69" fill="#26a69a"/><rect x="1342.00" y="1286.11" width="8" height="48.39" fill="#26a69a"/><rect x="1351.00" y="1290.06" width="8" height="44.44" fill="#b2dfdb"/><rect x="1360.00" y="1296.69" width="8" height="37.81" fill="#b2dfdb"/><rect x="1369.00" y="1304.70" width="8" height="29.80" fill="#b2dfdb"/><rect x="1378.00" y="1308.98" width="8" height="25.52" fill="#b2dfdb"/><rect x="1387.00" y="1311.27" width="8" height="23.23" fill="#b2dfdb"/><rect x="1396.00" y="1303.47" width="8" height="31.03" fill="#26a69a"/><rect x="1405.00" y="1295.04" width="8" height="39.46" fill="#26a69a"/><rect x="1414.00" y="1277.18" width="8" height="57.32" fill="#26a69a"/><rect x="1423.00" y="1252.26" width="8" height="82.24" fill="#26a69a"/><rect x="1432.00" y="1252.53" width="8" height="81.97" fill="#26a69a"/><rect x="1441.00" y="1265.67" width="8" height="68.83" fill="#b2dfdb"/><rect x="1450.00" y="1284.46" width="8" height="50.04" fill="#b2dfdb"/><rect x="1459.00" y="1292.46" width="8" height="42.04" fill="#b2dfdb"/><rect x="1468.00" y="1294.24" width="8" height="40.26" fill="#b2dfdb"/><rect x="1477.00" y="1300.36" width="8" height="34.14" fill="#b2dfdb"/><rect x="1486.00" y="1325.82" width="8" height="8.68" fill="#b2dfdb"/><rect x="1495.00" y="1334.50" width="8" height="3.10" fill="#ff5252"/><rect x="1504.00" y="1334.50" width="8" height="11.79" fill="#ff5252"/><rect x="1513.00" y="1334.50" width="8" height="21.59" fill="#ff5252"/><rect x="1522.00" y="1334.50" width="8" height="25.20" fill="#ff5252"/><rect x="1531.00" y="1334.50" width="8" height="29.57" fill="#ff5252"/><rect x="1540.00" y="1334.50" width="8" height="30.88" fill="#ff5252"/><rect x="1549.00" y="1334.50" width="8" height="30.71" fill="#ffcdd2"/><rect x="1558.00" y="1334.50" width="8" height="27.44" fill="#ffcdd2"/><rect x="1567.00" y="1334.50" width="8" height="37.53" fill="#ff5252"/><rect x="1576.00" y="1334.50" width="8" height="47.01" fill="#ff5252"/><rect x="1585.00" y="1334.50" width="8" height="50.55" fill="#ff5252"/><rect x="1594.00" y="1334.50" width="8" height="53.74" fill="#ff5252"/><rect x="1603.00" y="1334.50" width="8" height="56.19" fill="#ff5252"/><rect x="1612.00" y="1334.50" width="8" height="53.54" fill="#ffcdd2"/><rect x="1621.00" y="1334.50" width="8" height="47.87" fill="#ffcdd2"/><rect x="1630.00" y="1334.50" width="8" height="44.29" fill="#ffcdd2"/><rect x="1639.00" y="1334.50" width="8" height="47.20" fill="#ff5252"/><rect x="1648.00" y="1334.50" width="8" height="48.09" fill="#ff5252"/><rect x="1657.00" y="1334.50" width="8" height="45.39" fill="#ffcdd2"/><rect x="1666.00" y="1334.50" width="8" height="46.29" fill="#ff5252"/><rect x="1675.00" y="1334.50" width="8" height="46.76" fill="#ff5252"/><rect x="1684.00" y="1334.50" width="8" height="44.19" fill="#ffcdd2"/><rect x="1693.00" y="1334.50" width="8" height="29.58" fill="#ffcdd2"/><rect x="1702.00" y="1334.50" width="8" height="16.49" fill="#ffcdd2"/><rect x="1711.00" y="1334.50" width="8" height="5.38" fill="#ffcdd2"/><rect x="1729.00" y="1332.77" width="8" height="1.73" fill="#26a69a"/><rect x="1738.00" y="1331.17" width="8" height="3.33" fill="#26a69a"/><rect x="1747.00" y="1334.50" width="8" height="3.02" fill="#ff5252"/><rect x="1756.00" y="1334.50" width="8" height="2.63" fill="#ffcdd2"/><rect x="1765.00" y="1334.50" width="8" height="7.27" fill="#ff5252"/><rect x="1774.00" y="1334.50" width="8" height="7.10" fill="#ffcdd2"/><rect x="1783.00" y="1331.05" width="8" height="3.45" fill="#26a69a"/><rect x="1792.00" y="1328.35" width="8" height="6.15" fill="#26a69a"/><rect x="1801.00" y="1326.51" width="8" height="7.99" fill="#26a69a"/><rect x="1810.00" y="1319.90" width="8" height="14.60" fill="#26a69a"/><rect x="1819.00" y="1295.75" width="8" height="38.75" fill="#26a69a"/><rect x="1828.00" y="1278.70" width="8" height="55.80" fill="#26a69a"/><rect x="1837.00" y="1269.43" width="8" height="65.07" fill="#26a69a"/><rect x="1846.00" y="1268.96" width="8" height="65.54" fill="#26a69a"/><rect x="1855.00" y="1287.10" width="8" height="47.40" fill="#b2dfdb"/><rect x="1864.00" y="1295.33" width="8" height="39.17" fill="#b2dfdb"/><rect x="1873.00" y="1300.73" width="8" height="33.77" fill="#b2dfdb"/><rect x="1882.00" y="1306.89" width="8" height="27.61" fill="#b2dfdb"/><rect x="1891.00" y="1316.22" width="8" height="18.28" fill="#b2dfdb"/><rect x="1900.00" y="1325.27" width="8" height="9.23" fill="#b2dfdb"/><rect x="1909.00" y="1332.56" width="8" height="1.94" fill="#b2dfdb"/><rect x="1918.00" y="1334.50" width="8" height="7.98" fill="#ff5252"/><rect x="1927.00" y="1334.50" width="8" height="13.61" fill="#ff5252"/><rect x="1936.00" y="1334.50" width="8" height="17.72" fill="#ff5252"/><rect x="1945.00" y="1334.50" width="8" height="20.20" fill="#ff5252"/><rect x="1954.00" y="1334.50" width="8" height="19.28" fill="#ffcdd2"/><rect x="1963.00" y="1334.50" width="8" height="23.03" fill="#ff5252"/><rect x="1972.00" y="1334.50" width="8" height="32.40" fill="#ff5252"/><rect x="1981.00" y="1334.50" width="8" height="50.97" fill="#ff5252"/><rect x="1990.00" y="1334.50" width="8" height="55.47" fill="#ff5252"/><rect x="1999.00" y="1334.50" width="8" height="63.68" fill="#ff5252"/><rect x="2008.00" y="1334.50" width="8" height="72.93" fill="#ff5252"/><rect x="2017.00" y="1334.50" width="8" height="78.03" fill="#ff5252"/><rect x="2026.00" y="1334.50" width="8" height="74.34" fill="#ffcdd2"/><rect x="2035.00" y="1334.50" width="8" height="67.24" fill="#ffcdd2"/><rect x="2044.00" y="1334.50" width="8" height="60.54" fill="#ffcdd2"/><rect x="2053.00" y="1334.50" width="8" height="51.63" fill="#ffcdd2"/><rect x="2062.00" y="1334.50" width="8" height="43.61" fill="#ffcdd2"/><rect x="2071.00" y="1334.50" width="8" height="33.19" fill="#ffcdd2"/><rect x="2080.00" y="1334.50" width="8" height="20.74" fill="#ffcdd2"/><rect x="2089.00" y="1334.50" width="8" height="3.45" fill="#ffcdd2"/>
<polyline points="13.6,1340.4 22.6,1340.4 31.6,1340.2 40.6,1339.8 49.6,1339.1 58.6,1339.4 67.6,1341.5 76.6,1343.5 85.6,1343.7 94.6,1345.3 103.6,1345.7 112.6,1345.7 121.6,1345.5 130.6,1344.6 139.6,1342.4 148.6,1337.7 157.6,1334.3 166.6,1330.7 175.6,1325.6 184.6,1319.1 193.6,1317.3 202.6,1315.8 211.6,1313.8 220.6,1312.1 229.6,1310.6 238.6,1310.3 247.6,1309.2 256.6,1309.6 265.6,1310.0 274.6,1311.0 283.6,1311.8 292.6,1312.6 301.6,1312.1 310.6,1312.2 319.6,1314.0 328.6,1317.6 337.6,1320.9 346.6,1325.5 355.6,1331.0 364.6,1334.5 373.6,1332.0 382.6,1329.2 391.6,1329.0 400.6,1328.7 409.6,1330.2 418.6,1330.7 427.6,1330.7 436.6,1331.1 445.6,1331.9 454.6,1332.4 463.6,1332.7 472.6,1333.1 481.6,1331.5 490.6,1330.5 499.6,1329.5 508.6,1328.8 517.6,1327.6 526.6,1326.7 535.6,1326.7 544.6,1327.6 553.6,1329.4 562.6,1330.8 571.6,1332.3 580.6,1333.3 589.6,1334.0 598.6,1335.7 607.6,1335.9 616.6,1336.5 625.6,1337.1 634.6,1338.2 643.6,1340.3 652.6,1341.7 661.6,1342.4 670.6,1342.3 679.6,1342.1 688.6,1342.2 697.6,1340.6 706.6,1338.7 715.6,1336.0 724.6,1335.1 733.6,1333.6 742.6,1332.5 751.6,1331.7 760.6,1331.0 769.6,1330.6 778.6,1329.6 787.6,1329.4 796.6,1329.6 805.6,1329.3 814.6,1329.6 823.6,1329.5 832.6,1329.5 841.6,1328.1 850.6,1325.7 859.6,1325.5 868.6,1326.4 877.6,1330.4 886.6,1334.5 895.6,1336.9 904.6,1339.1 913.6,1340.6 922.6,1341.9 931.6,1342.8 940.6,1343.7 949.6,1343.9 958.6,1343.6 967.6,1343.2 976.6,1343.2 985.6,1342.1 994.6,1341.7 1003.6,1340.8 1012.6,1340.4 1021.6,1339.8 1030.6,1339.4 1039.6,1338.8 1048.6,1338.4 1057.6,1338.7 1066.6,1339.4 1075.6,1339.5 1084.6,1341.2 1093.6,1341.8 1102.6,1342.0 1111.6,1341.9 1120.6,1341.2 1129.6,1341.0 1138.6,1341.5 1147.6,1341.6 1156.6,1341.7 1165.6,1342.2 1174.6,1342.4 1183.6,1341.9 1192.6,1339.9 1201.6,1337.5 1210.6,1335.7 1219.6,1334.0 1228.6,1331.0 1237.6,1326.8 1246.6,1319.1 1255.6,1314.0 1264.6,1305.5 1273.6,1292.6 1282.6,1270.3 1291.6,1257.2 1300.6,1244.6 1309.6,1236.4 1318.6,1230.9 1327.6,1219.7 1336.6,1199.8 1345.6,1186.0 1354.6,1178.9 1363.6,1176.1 1372.6,1176.6 1381.6,1174.5 1390.6,1171.0 1399.6,1155.4 1408.6,1137.2 1417.6,1105.0 1426.6,1059.5 1435.6,1039.3 1444.6,1035.2 1453.6,1041.5 1462.6,1039.0 1471.6,1030.7 1480.6,1028.3 1489.6,1051.5 1498.6,1064.1 1507.6,1075.7 1516.6,1090.9 1525.6,1100.8 1534.6,1112.6 1543.6,1121.6 1552.6,1129.2 1561.6,1132.7 1570.6,1152.2 1579.6,1173.4 1588.6,1189.6 1597.6,1206.2 1606.6,1222.7 1615.6,1233.5 1624.6,1239.8 1633.6,1247.3 1642.6,1262.0 1651.6,1274.9 1660.6,1283.5 1669.6,1296.0 1678.6,1308.2 1687.6,1316.7 1696.6,1309.4 1705.6,1300.5 1714.6,1290.7 1723.6,1285.5 1732.6,1283.2 1741.6,1280.8 1750.6,1287.9 1759.6,1288.1 1768.6,1294.6 1777.6,1296.2 1786.6,1284.8 1795.6,1280.6 1804.6,1276.7 1813.6,1266.5 1822.6,1232.6 1831.6,1201.6 1840.6,1176.1 1849.6,1159.2 1858.6,1165.5 1867.6,1164.0 1876.6,1160.9 1885.6,1160.2 1894.6,1164.9 1903.6,1171.7 1912.6,1178.5 1921.6,1190.4 1930.6,1199.4 1939.6,1208.0 1948.6,1215.5 1957.6,1219.4 1966.6,1228.9 1975.6,1246.4 1984.6,1277.7 1993.6,1296.1 2002.6,1320.2 2011.6,1347.7 2020.6,1372.3 2029.6,1387.2 2038.6,1396.9 2047.6,1405.3 2056.6,1409.3 2065.6,1412.2 2074.6,1410.1 2083.6,1402.8 2092.6,1386.4" fill="none" stroke="#2962ff" stroke-width="1.5" stroke-linejoin="round"/>
<polyline points="13.6,1341.0 22.6,1340.9 31.6,1340.7 40.6,1340.6 49.6,1340.3 58.6,1340.1 67.6,1340.4 76.6,1341.0 85.6,1341.5 94.6,1342.3 103.6,1343.0 112.6,1343.5 121.6,1343.9 130.6,1344.1 139.6,1343.7 148.6,1342.5 157.6,1340.9 166.6,1338.8 175.6,1336.2 184.6,1332.8 193.6,1329.7 202.6,1326.9 211.6,1324.3 220.6,1321.9 229.6,1319.6 238.6,1317.8 247.6,1316.0 256.6,1314.8 265.6,1313.8 274.6,1313.3 283.6,1313.0 292.6,1312.9 301.6,1312.7 310.6,1312.6 319.6,1312.9 328.6,1313.8 337.6,1315.2 346.6,1317.3 355.6,1320.0 364.6,1322.9 373.6,1324.7 382.6,1325.6 391.6,1326.3 400.6,1326.8 409.6,1327.5 418.6,1328.1 427.6,1328.6 436.6,1329.1 445.6,1329.7 454.6,1330.2 463.6,1330.7 472.6,1331.2 481.6,1331.2 490.6,1331.1 499.6,1330.8 508.6,1330.4 517.6,1329.8 526.6,1329.2 535.6,1328.7 544.6,1328.5 553.6,1328.7 562.6,1329.1 571.6,1329.7 580.6,1330.5 589.6,1331.2 598.6,1332.1 607.6,1332.8 616.6,1333.6 625.6,1334.3 634.6,1335.0 643.6,1336.1 652.6,1337.2 661.6,1338.2 670.6,1339.1 679.6,1339.7 688.6,1340.2 697.6,1340.3 706.6,1340.0 715.6,1339.2 724.6,1338.3 733.6,1337.4 742.6,1336.4 751.6,1335.5 760.6,1334.6 769.6,1333.8 778.6,1332.9 787.6,1332.2 796.6,1331.7 805.6,1331.2 814.6,1330.9 823.6,1330.6 832.6,1330.4 841.6,1329.9 850.6,1329.1 859.6,1328.4 868.6,1328.0 877.6,1328.5 886.6,1329.7 895.6,1331.1 904.6,1332.7 913.6,1334.3 922.6,1335.8 931.6,1337.2 940.6,1338.5 949.6,1339.6 958.6,1340.4 967.6,1340.9 976.6,1341.4 985.6,1341.5 994.6,1341.6 1003.6,1341.4 1012.6,1341.2 1021.6,1340.9 1030.6,1340.6 1039.6,1340.2 1048.6,1339.9 1057.6,1339.6 1066.6,1339.6 1075.6,1339.6 1084.6,1339.9 1093.6,1340.3 1102.6,1340.6 1111.6,1340.9 1120.6,1341.0 1129.6,1341.0 1138.6,1341.1 1147.6,1341.2 1156.6,1341.3 1165.6,1341.5 1174.6,1341.7 1183.6,1341.7 1192.6,1341.3 1201.6,1340.6 1210.6,1339.6 1219.6,1338.5 1228.6,1337.0 1237.6,1334.9 1246.6,1331.8 1255.6,1328.2 1264.6,1323.7 1273.6,1317.5 1282.6,1308.0 1291.6,1297.9 1300.6,1287.2 1309.6,1277.0 1318.6,1267.8 1327.6,1258.2 1336.6,1246.5 1345.6,1234.4 1354.6,1223.3 1363.6,1213.9 1372.6,1206.4 1381.6,1200.0 1390.6,1194.2 1399.6,1186.5 1408.6,1176.6 1417.6,1162.3 1426.6,1141.7 1435.6,1121.2 1444.6,1104.0 1453.6,1091.5 1462.6,1081.0 1471.6,1070.9 1480.6,1062.4 1489.6,1060.2 1498.6,1061.0 1507.6,1064.0 1516.6,1069.3 1525.6,1075.6 1534.6,1083.0 1543.6,1090.8 1552.6,1098.4 1561.6,1105.3 1570.6,1114.7 1579.6,1126.4 1588.6,1139.1 1597.6,1152.5 1606.6,1166.6 1615.6,1179.9 1624.6,1191.9 1633.6,1203.0 1642.6,1214.8 1651.6,1226.8 1660.6,1238.2 1669.6,1249.7 1678.6,1261.4 1687.6,1272.5 1696.6,1279.9 1705.6,1284.0 1714.6,1285.3 1723.6,1285.4 1732.6,1284.9 1741.6,1284.1 1750.6,1284.9 1759.6,1285.5 1768.6,1287.3 1777.6,1289.1 1786.6,1288.2 1795.6,1286.7 1804.6,1284.7 1813.6,1281.1 1822.6,1271.4 1831.6,1257.4 1840.6,1241.2 1849.6,1224.8 1858.6,1212.9 1867.6,1203.1 1876.6,1194.7 1885.6,1187.8 1894.6,1183.2 1903.6,1180.9 1912.6,1180.4 1921.6,1182.4 1930.6,1185.8 1939.6,1190.2 1948.6,1195.3 1957.6,1200.1 1966.6,1205.9 1975.6,1214.0 1984.6,1226.7 1993.6,1240.6 2002.6,1256.5 2011.6,1274.7 2020.6,1294.2 2029.6,1312.8 2038.6,1329.6 2047.6,1344.8 2056.6,1357.7 2065.6,1368.6 2074.6,1376.9 2083.6,1382.1 2092.6,1382.9" fill="none" stroke="#ff6d00" stroke-width="1.5" stroke-linejoin="round"/>
</g>
<rect x="15" y="41" width="2271" height="1452" fill="none" stroke="#f4f4f6" stroke-width="2"/>
<text x="2201.09" y="59.7" font-size="18.8" fill="#131722" stroke="#131722" stroke-width="0.3" font-family="Liberation Sans, sans-serif" textLength="54.07" lengthAdjust="spacingAndGlyphs">3.6000</text>
<text x="2201.09" y="113.2" font-size="18.8" fill="#131722" stroke="#131722" stroke-width="0.3" font-family="Liberation Sans, sans-serif" textLength="54.07" lengthAdjust="spacingAndGlyphs">3.4000</text>
<text x="2201.09" y="166.6" font-size="18.8" fill="#131722" stroke="#131722" stroke-width="0.3" font-family="Liberation Sans, sans-serif" textLength="54.07" lengthAdjust="spacingAndGlyphs">3.2000</text>
<text x="2201.09" y="220.1" font-size="18.8" fill="#131722" stroke="#131722" stroke-width="0.3" font-family="Liberation Sans, sans-serif" textLength="54.07" lengthAdjust="spacingAndGlyphs">3.0000</text>
<text x="2201.09" y="273.6" font-size="18.8" fill="#131722" stroke="#131722" stroke-width="0.3" font-family="Liberation Sans, sans-serif" textLength="54.07" lengthAdjust="spacingAndGlyphs">2.8000</text>
<text x="2201.09" y="327.1" font-size="18.8" fill="#131722" stroke="#131722" stroke-width="0.3" font-family="Liberation Sans, sans-serif" textLength="54.07" lengthAdjust="spacingAndGlyphs">2.6000</text>
<text x="2201.09" y="380.5" font-size="18.8" fill="#131722" stroke="#131722" stroke-width="0.3" font-family="Liberation Sans, sans-serif" textLength="54.07" lengthAdjust="spacingAndGlyphs">2.4000</text>
<text x="2201.09" y="434.0" font-size="18.8" fill="#131722" stroke="#131722" stroke-width="0.3" font-family="Liberation Sans, sans-serif" textLength="54.07" lengthAdjust="spacingAndGlyphs">2.2000</text>
<text x="2201.09" y="487.5" font-size="18.8" fill="#131722" stroke="#131722" stroke-width="0.3" font-family="Liberation Sans, sans-serif" textLength="54.07" lengthAdjust="spacingAndGlyphs">2.0000</text>
<text x="2201.09" y="540.9" font-size="18.8" fill="#131722" stroke="#131722" stroke-width="0.3" font-family="Liberation Sans, sans-serif" textLength="54.07" lengthAdjust="spacingAndGlyphs">1.8000</text>
<text x="2201.09" y="594.4" font-size="18.8" fill="#131722" stroke="#131722" stroke-width="0.3" font-family="Liberation Sans, sans-serif" textLength="54.07" lengthAdjust="spacingAndGlyphs">1.6000</text>
<text x="2201.09" y="647.9" font-size="18.8" fill="#131722" stroke="#131722" stroke-width="0.3" font-family="Liberation Sans, sans-serif" textLength="54.07" lengthAdjust="spacingAndGlyphs">1.4000</text>
<text x="2201.09" y="701.3" font-size="18.8" fill="#131722" stroke="#131722" stroke-width="0.3" font-family="Liberation Sans, sans-serif" textLength="54.07" lengthAdjust="spacingAndGlyphs">1.2000</text>
<text x="2201.09" y="754.8" font-size="18.8" fill="#131722" stroke="#131722" stroke-width="0.3" font-family="Liberation Sans, sans-serif" textLength="54.07" lengthAdjust="spacingAndGlyphs">1.0000</text>
<text x="2201.09" y="808.3" font-size="18.8" fill="#131722" stroke="#131722" stroke-width="0.3" font-family="Liberation Sans, sans-serif" textLength="54.07" lengthAdjust="spacingAndGlyphs">0.8000</text>
<text x="2201.09" y="861.8" font-size="18.8" fill="#131722" stroke="#131722" stroke-width="0.3" font-family="Liberation Sans, sans-serif" textLength="54.07" lengthAdjust="spacingAndGlyphs">0.6000</text>
<text x="2201.09" y="915.2" font-size="18.8" fill="#131722" stroke="#131722" stroke-width="0.3" font-family="Liberation Sans, sans-serif" textLength="54.07" lengthAdjust="spacingAndGlyphs">0.4000</text>
<g clip-path="url(#cpa)">
<text x="2201.09" y="1270.7" font-size="18.8" fill="#131722" stroke="#131722" stroke-width="0.3" font-family="Liberation Sans, sans-serif" textLength="54.07" lengthAdjust="spacingAndGlyphs">0.1000</text>
<text x="2201.09" y="1200.7" font-size="18.8" fill="#131722" stroke="#131722" stroke-width="0.3" font-family="Liberation Sans, sans-serif" textLength="54.07" lengthAdjust="spacingAndGlyphs">0.2000</text>
<text x="2201.09" y="1130.7" font-size="18.8" fill="#131722" stroke="#131722" stroke-width="0.3" font-family="Liberation Sans, sans-serif" textLength="54.07" lengthAdjust="spacingAndGlyphs">0.3000</text>
<text x="2201.09" y="1061.7" font-size="18.8" fill="#131722" stroke="#131722" stroke-width="0.3" font-family="Liberation Sans, sans-serif" textLength="54.07" lengthAdjust="spacingAndGlyphs">0.4000</text>
<text x="2201.09" y="991.7" font-size="18.8" fill="#131722" stroke="#131722" stroke-width="0.3" font-family="Liberation Sans, sans-serif" textLength="54.07" lengthAdjust="spacingAndGlyphs">0.5000</text>
</g>
<path d="M2188,269.1 h87 a3,3 0 0 1 3,3 v41.7 a3,3 0 0 1 -3,3 h-87 z" fill="#9f31f4"/>
<path d="M2188,948.0 h87 a3,3 0 0 1 3,3 v20.9 a3,3 0 0 1 -3,3 h-87 z" fill="#26a69a"/>
<path d="M2188,1324.0 h81 a3,3 0 0 1 3,3 v20.7 a3,3 0 0 1 -3,3 h-81 z" fill="#ffcdd2"/>
<path d="M2188,1369.0 h81 a3,3 0 0 1 3,3 v21.0 a3,3 0 0 1 -3,3 h-81 z" fill="#ff6d00"/>
<path d="M2188,1396.0 h81 a3,3 0 0 1 3,3 v19.8 a3,3 0 0 1 -3,3 h-81 z" fill="#2962ff"/>
<circle cx="2093.5" cy="960.4" r="14.4" fill="#fff" stroke="#9c27b0" stroke-width="2.3"/>
<path d="M2098.8,952.2 L2086.7,961.0 L2093.6,961.2 L2088.4,968.5 L2100.3,960.0 L2093.4,959.6 Z" fill="#9c27b0"/>
<text x="14.70" y="28.9" font-size="18.3" font-weight="normal" fill="#131722" stroke="#131722" stroke-width="0.3" font-family="Liberation Sans, sans-serif" textLength="125.85" lengthAdjust="spacingAndGlyphs">scottmatherson</text>
<text x="145.26" y="28.9" font-size="18.3" font-weight="normal" fill="#131722" stroke="#131722" stroke-width="0.3" font-family="Liberation Sans, sans-serif" textLength="77.66" lengthAdjust="spacingAndGlyphs">published</text>
<text x="228.29" y="28.9" font-size="18.3" font-weight="normal" fill="#131722" stroke="#131722" stroke-width="0.3" font-family="Liberation Sans, sans-serif" textLength="19.35" lengthAdjust="spacingAndGlyphs">on</text>
<text x="253.51" y="28.9" font-size="18.3" font-weight="normal" fill="#131722" stroke="#131722" stroke-width="0.3" font-family="Liberation Sans, sans-serif" textLength="141.91" lengthAdjust="spacingAndGlyphs">TradingView.com,</text>
<text x="400.89" y="28.9" font-size="18.3" font-weight="normal" fill="#131722" stroke="#131722" stroke-width="0.3" font-family="Liberation Sans, sans-serif" textLength="29.52" lengthAdjust="spacingAndGlyphs">Feb</text>
<text x="437.03" y="28.9" font-size="18.3" font-weight="normal" fill="#131722" stroke="#131722" stroke-width="0.3" font-family="Liberation Sans, sans-serif" textLength="23.84" lengthAdjust="spacingAndGlyphs">14,</text>
<text x="465.96" y="28.9" font-size="18.3" font-weight="normal" fill="#131722" stroke="#131722" stroke-width="0.3" font-family="Liberation Sans, sans-serif" textLength="38.06" lengthAdjust="spacingAndGlyphs">2025</text>
<text x="510.67" y="28.9" font-size="18.3" font-weight="normal" fill="#131722" stroke="#131722" stroke-width="0.3" font-family="Liberation Sans, sans-serif" textLength="44.97" lengthAdjust="spacingAndGlyphs">10:40</text>
<text x="560.10" y="28.9" font-size="18.3" font-weight="normal" fill="#131722" stroke="#131722" stroke-width="0.3" font-family="Liberation Sans, sans-serif" textLength="32.62" lengthAdjust="spacingAndGlyphs">UTC</text>
<text x="26.80" y="70.0" font-size="18.8" font-weight="normal" fill="#131722" stroke="#131722" stroke-width="0.3" font-family="Liberation Sans, sans-serif" textLength="31.00" lengthAdjust="spacingAndGlyphs">XRP</text>
<text x="78.23" y="70.0" font-size="18.8" font-weight="normal" fill="#131722" stroke="#131722" stroke-width="0.3" font-family="Liberation Sans, sans-serif" textLength="77.71" lengthAdjust="spacingAndGlyphs">TetherUS,</text>
<text x="162.04" y="70.0" font-size="18.8" font-weight="normal" fill="#131722" stroke="#131722" stroke-width="0.3" font-family="Liberation Sans, sans-serif" textLength="26.42" lengthAdjust="spacingAndGlyphs">1D,</text>
<text x="194.15" y="70.0" font-size="18.8" font-weight="normal" fill="#131722" stroke="#131722" stroke-width="0.3" font-family="Liberation Sans, sans-serif" textLength="69.68" lengthAdjust="spacingAndGlyphs">BINANCE</text>
<text x="273.74" y="70.0" font-size="18.8" font-weight="normal" fill="#9f31f4" stroke="#9f31f4" stroke-width="0.3" font-family="Liberation Sans, sans-serif" textLength="55.03" lengthAdjust="spacingAndGlyphs">2.7410</text>
<text x="338.87" y="70.0" font-size="18.8" font-weight="normal" fill="#9f31f4" stroke="#9f31f4" stroke-width="0.3" font-family="Liberation Sans, sans-serif" textLength="62.60" lengthAdjust="spacingAndGlyphs">+0.1811</text>
<text x="407.88" y="70.0" font-size="18.8" font-weight="normal" fill="#9f31f4" stroke="#9f31f4" stroke-width="0.3" font-family="Liberation Sans, sans-serif" textLength="69.04" lengthAdjust="spacingAndGlyphs">(+7.07%)</text>
<text x="27.60" y="96.0" font-size="18.8" font-weight="normal" fill="#131722" stroke="#131722" stroke-width="0.3" font-family="Liberation Sans, sans-serif" textLength="24.02" lengthAdjust="spacingAndGlyphs">Vol</text>
<text x="68.50" y="96.0" font-size="18.8" font-weight="normal" fill="#131722" stroke="#131722" stroke-width="0.3" font-family="Liberation Sans, sans-serif" textLength="31.00" lengthAdjust="spacingAndGlyphs">XRP</text>
<text x="110.52" y="96.0" font-size="18.8" font-weight="normal" fill="#26a69a" stroke="#26a69a" stroke-width="0.3" font-family="Liberation Sans, sans-serif" textLength="52.93" lengthAdjust="spacingAndGlyphs">185.93</text>
<text x="165.89" y="96.0" font-size="18.8" font-weight="normal" fill="#26a69a" stroke="#26a69a" stroke-width="0.3" font-family="Liberation Sans, sans-serif" textLength="14.74" lengthAdjust="spacingAndGlyphs">M</text>
<text x="25.95" y="1009.4" font-size="18.8" font-weight="normal" fill="#131722" stroke="#131722" stroke-width="0.3" font-family="Liberation Sans, sans-serif" textLength="46.23" lengthAdjust="spacingAndGlyphs">MACD</text>
<text x="78.12" y="1009.4" font-size="18.8" font-weight="normal" fill="#131722" stroke="#131722" stroke-width="0.3" font-family="Liberation Sans, sans-serif" textLength="30.51" lengthAdjust="spacingAndGlyphs">(12,</text>
<text x="114.82" y="1009.4" font-size="18.8" font-weight="normal" fill="#131722" stroke="#131722" stroke-width="0.3" font-family="Liberation Sans, sans-serif" textLength="25.66" lengthAdjust="spacingAndGlyphs">26,</text>
<text x="145.48" y="1009.4" font-size="18.8" font-weight="normal" fill="#131722" stroke="#131722" stroke-width="0.3" font-family="Liberation Sans, sans-serif" textLength="48.40" lengthAdjust="spacingAndGlyphs">close)</text>
<text x="204.17" y="1009.4" font-size="18.8" font-weight="normal" fill="#ffcdd2" stroke="#ffcdd2" stroke-width="0.3" font-family="Liberation Sans, sans-serif" textLength="63.55" lengthAdjust="spacingAndGlyphs">−0.0050</text>
<text x="278.78" y="1009.4" font-size="18.8" font-weight="normal" fill="#2962ff" stroke="#2962ff" stroke-width="0.3" font-family="Liberation Sans, sans-serif" textLength="63.28" lengthAdjust="spacingAndGlyphs">−0.0747</text>
<text x="353.28" y="1009.4" font-size="18.8" font-weight="normal" fill="#ff6d00" stroke="#ff6d00" stroke-width="0.3" font-family="Liberation Sans, sans-serif" textLength="63.07" lengthAdjust="spacingAndGlyphs">−0.0697</text>
<text x="2200.54" y="288.6" font-size="17.6" font-weight="normal" fill="#ffffff" stroke="#ffffff" stroke-width="0.55" stroke-linejoin="round" font-family="Liberation Sans, sans-serif" textLength="54.79" lengthAdjust="spacingAndGlyphs">2.7410</text>
<text x="2200.51" y="309.8" font-size="17.6" font-weight="normal" fill="#ead3fd" stroke="#ead3fd" stroke-width="0.55" stroke-linejoin="round" font-family="Liberation Sans, sans-serif" textLength="70.87" lengthAdjust="spacingAndGlyphs">13:19:10</text>
<text x="2200.68" y="967.8" font-size="18.4" font-weight="normal" fill="#ffffff" stroke="#ffffff" stroke-width="0.55" stroke-linejoin="round" font-family="Liberation Sans, sans-serif" textLength="54.75" lengthAdjust="spacingAndGlyphs">185.93</text>
<text x="2255.93" y="967.8" font-size="18.4" font-weight="normal" fill="#ffffff" stroke="#ffffff" stroke-width="0.55" stroke-linejoin="round" font-family="Liberation Sans, sans-serif" textLength="16.02" lengthAdjust="spacingAndGlyphs">M</text>
<text x="2200.77" y="1343.9" font-size="18.8" font-weight="normal" fill="#131722" stroke="#131722" stroke-width="0.3" font-family="Liberation Sans, sans-serif" textLength="63.76" lengthAdjust="spacingAndGlyphs">−0.0050</text>
<text x="2200.03" y="1389.0" font-size="18.4" font-weight="normal" fill="#ffffff" stroke="#ffffff" stroke-width="0.55" stroke-linejoin="round" font-family="Liberation Sans, sans-serif" textLength="65.04" lengthAdjust="spacingAndGlyphs">−0.0697</text>
<text x="2200.03" y="1415.0" font-size="18.4" font-weight="normal" fill="#ffffff" stroke="#ffffff" stroke-width="0.55" stroke-linejoin="round" font-family="Liberation Sans, sans-serif" textLength="65.04" lengthAdjust="spacingAndGlyphs">−0.0747</text>
<text x="28.74" y="1478.7" font-size="18.6" font-weight="normal" fill="#131722" stroke="#131722" stroke-width="0.3" font-family="Liberation Sans, sans-serif" textLength="24.58" lengthAdjust="spacingAndGlyphs">Jul</text>
<text x="156.27" y="1478.7" font-size="18.6" font-weight="normal" fill="#131722" stroke="#131722" stroke-width="0.3" font-family="Liberation Sans, sans-serif" textLength="19.68" lengthAdjust="spacingAndGlyphs">15</text>
<text x="305.15" y="1478.7" font-size="18.6" font-weight="normal" fill="#131722" stroke="#131722" stroke-width="0.3" font-family="Liberation Sans, sans-serif" textLength="29.68" lengthAdjust="spacingAndGlyphs">Aug</text>
<text x="435.27" y="1478.7" font-size="18.6" font-weight="normal" fill="#131722" stroke="#131722" stroke-width="0.3" font-family="Liberation Sans, sans-serif" textLength="19.68" lengthAdjust="spacingAndGlyphs">15</text>
<text x="583.78" y="1478.7" font-size="18.6" font-weight="normal" fill="#131722" stroke="#131722" stroke-width="0.3" font-family="Liberation Sans, sans-serif" textLength="29.52" lengthAdjust="spacingAndGlyphs">Sep</text>
<text x="723.02" y="1478.7" font-size="18.6" font-weight="normal" fill="#131722" stroke="#131722" stroke-width="0.3" font-family="Liberation Sans, sans-serif" textLength="20.40" lengthAdjust="spacingAndGlyphs">16</text>
<text x="853.80" y="1478.7" font-size="18.6" font-weight="normal" fill="#131722" stroke="#131722" stroke-width="0.3" font-family="Liberation Sans, sans-serif" textLength="28.83" lengthAdjust="spacingAndGlyphs">Oct</text>
<text x="984.27" y="1478.7" font-size="18.6" font-weight="normal" fill="#131722" stroke="#131722" stroke-width="0.3" font-family="Liberation Sans, sans-serif" textLength="19.68" lengthAdjust="spacingAndGlyphs">15</text>
<text x="1131.51" y="1478.7" font-size="18.6" font-weight="normal" fill="#131722" stroke="#131722" stroke-width="0.3" font-family="Liberation Sans, sans-serif" textLength="30.66" lengthAdjust="spacingAndGlyphs">Nov</text>
<text x="1263.27" y="1478.7" font-size="18.6" font-weight="normal" fill="#131722" stroke="#131722" stroke-width="0.3" font-family="Liberation Sans, sans-serif" textLength="19.68" lengthAdjust="spacingAndGlyphs">15</text>
<text x="1401.76" y="1478.7" font-size="18.6" font-weight="normal" fill="#131722" stroke="#131722" stroke-width="0.3" font-family="Liberation Sans, sans-serif" textLength="30.62" lengthAdjust="spacingAndGlyphs">Dec</text>
<text x="1542.02" y="1478.7" font-size="18.6" font-weight="normal" fill="#131722" stroke="#131722" stroke-width="0.3" font-family="Liberation Sans, sans-serif" textLength="20.40" lengthAdjust="spacingAndGlyphs">16</text>
<text x="1675.33" y="1478.7" font-size="18.6" font-weight="normal" fill="#131722" stroke="#131722" stroke-width="0.55" stroke-linejoin="round" font-family="Liberation Sans, sans-serif" textLength="42.21" lengthAdjust="spacingAndGlyphs">2025</text>
<text x="1812.27" y="1478.7" font-size="18.6" font-weight="normal" fill="#131722" stroke="#131722" stroke-width="0.3" font-family="Liberation Sans, sans-serif" textLength="19.68" lengthAdjust="spacingAndGlyphs">15</text>
<text x="1960.42" y="1478.7" font-size="18.6" font-weight="normal" fill="#131722" stroke="#131722" stroke-width="0.3" font-family="Liberation Sans, sans-serif" textLength="29.52" lengthAdjust="spacingAndGlyphs">Feb</text>
<text x="2109.25" y="1478.7" font-size="18.6" font-weight="normal" fill="#131722" stroke="#131722" stroke-width="0.3" font-family="Liberation Sans, sans-serif" textLength="19.95" lengthAdjust="spacingAndGlyphs">17</text>
<text x="49.81" y="1526.7" font-size="19.6" font-weight="normal" fill="#131313" stroke="#131313" stroke-width="0.3" font-family="Liberation Sans, sans-serif" textLength="105.67" lengthAdjust="spacingAndGlyphs">TradingView</text>
<line x1="65.4" y1="72.2" x2="71.7" y2="57.4" stroke="#131722" stroke-width="1.5"/>
<rect x="59.1" y="89.1" width="2.6" height="2.6" rx="0.6" fill="#131722"/>
<g fill="#131313"><path d="M15,1511.3 H26.8 V1525.8 H20.6 V1517.4 H15 Z"/><circle cx="31.6" cy="1514.6" r="3.4"/><path d="M37.6,1511.3 H44.2 L38.2,1525.8 H31.6 Z"/></g>
</svg>
</body></html>
